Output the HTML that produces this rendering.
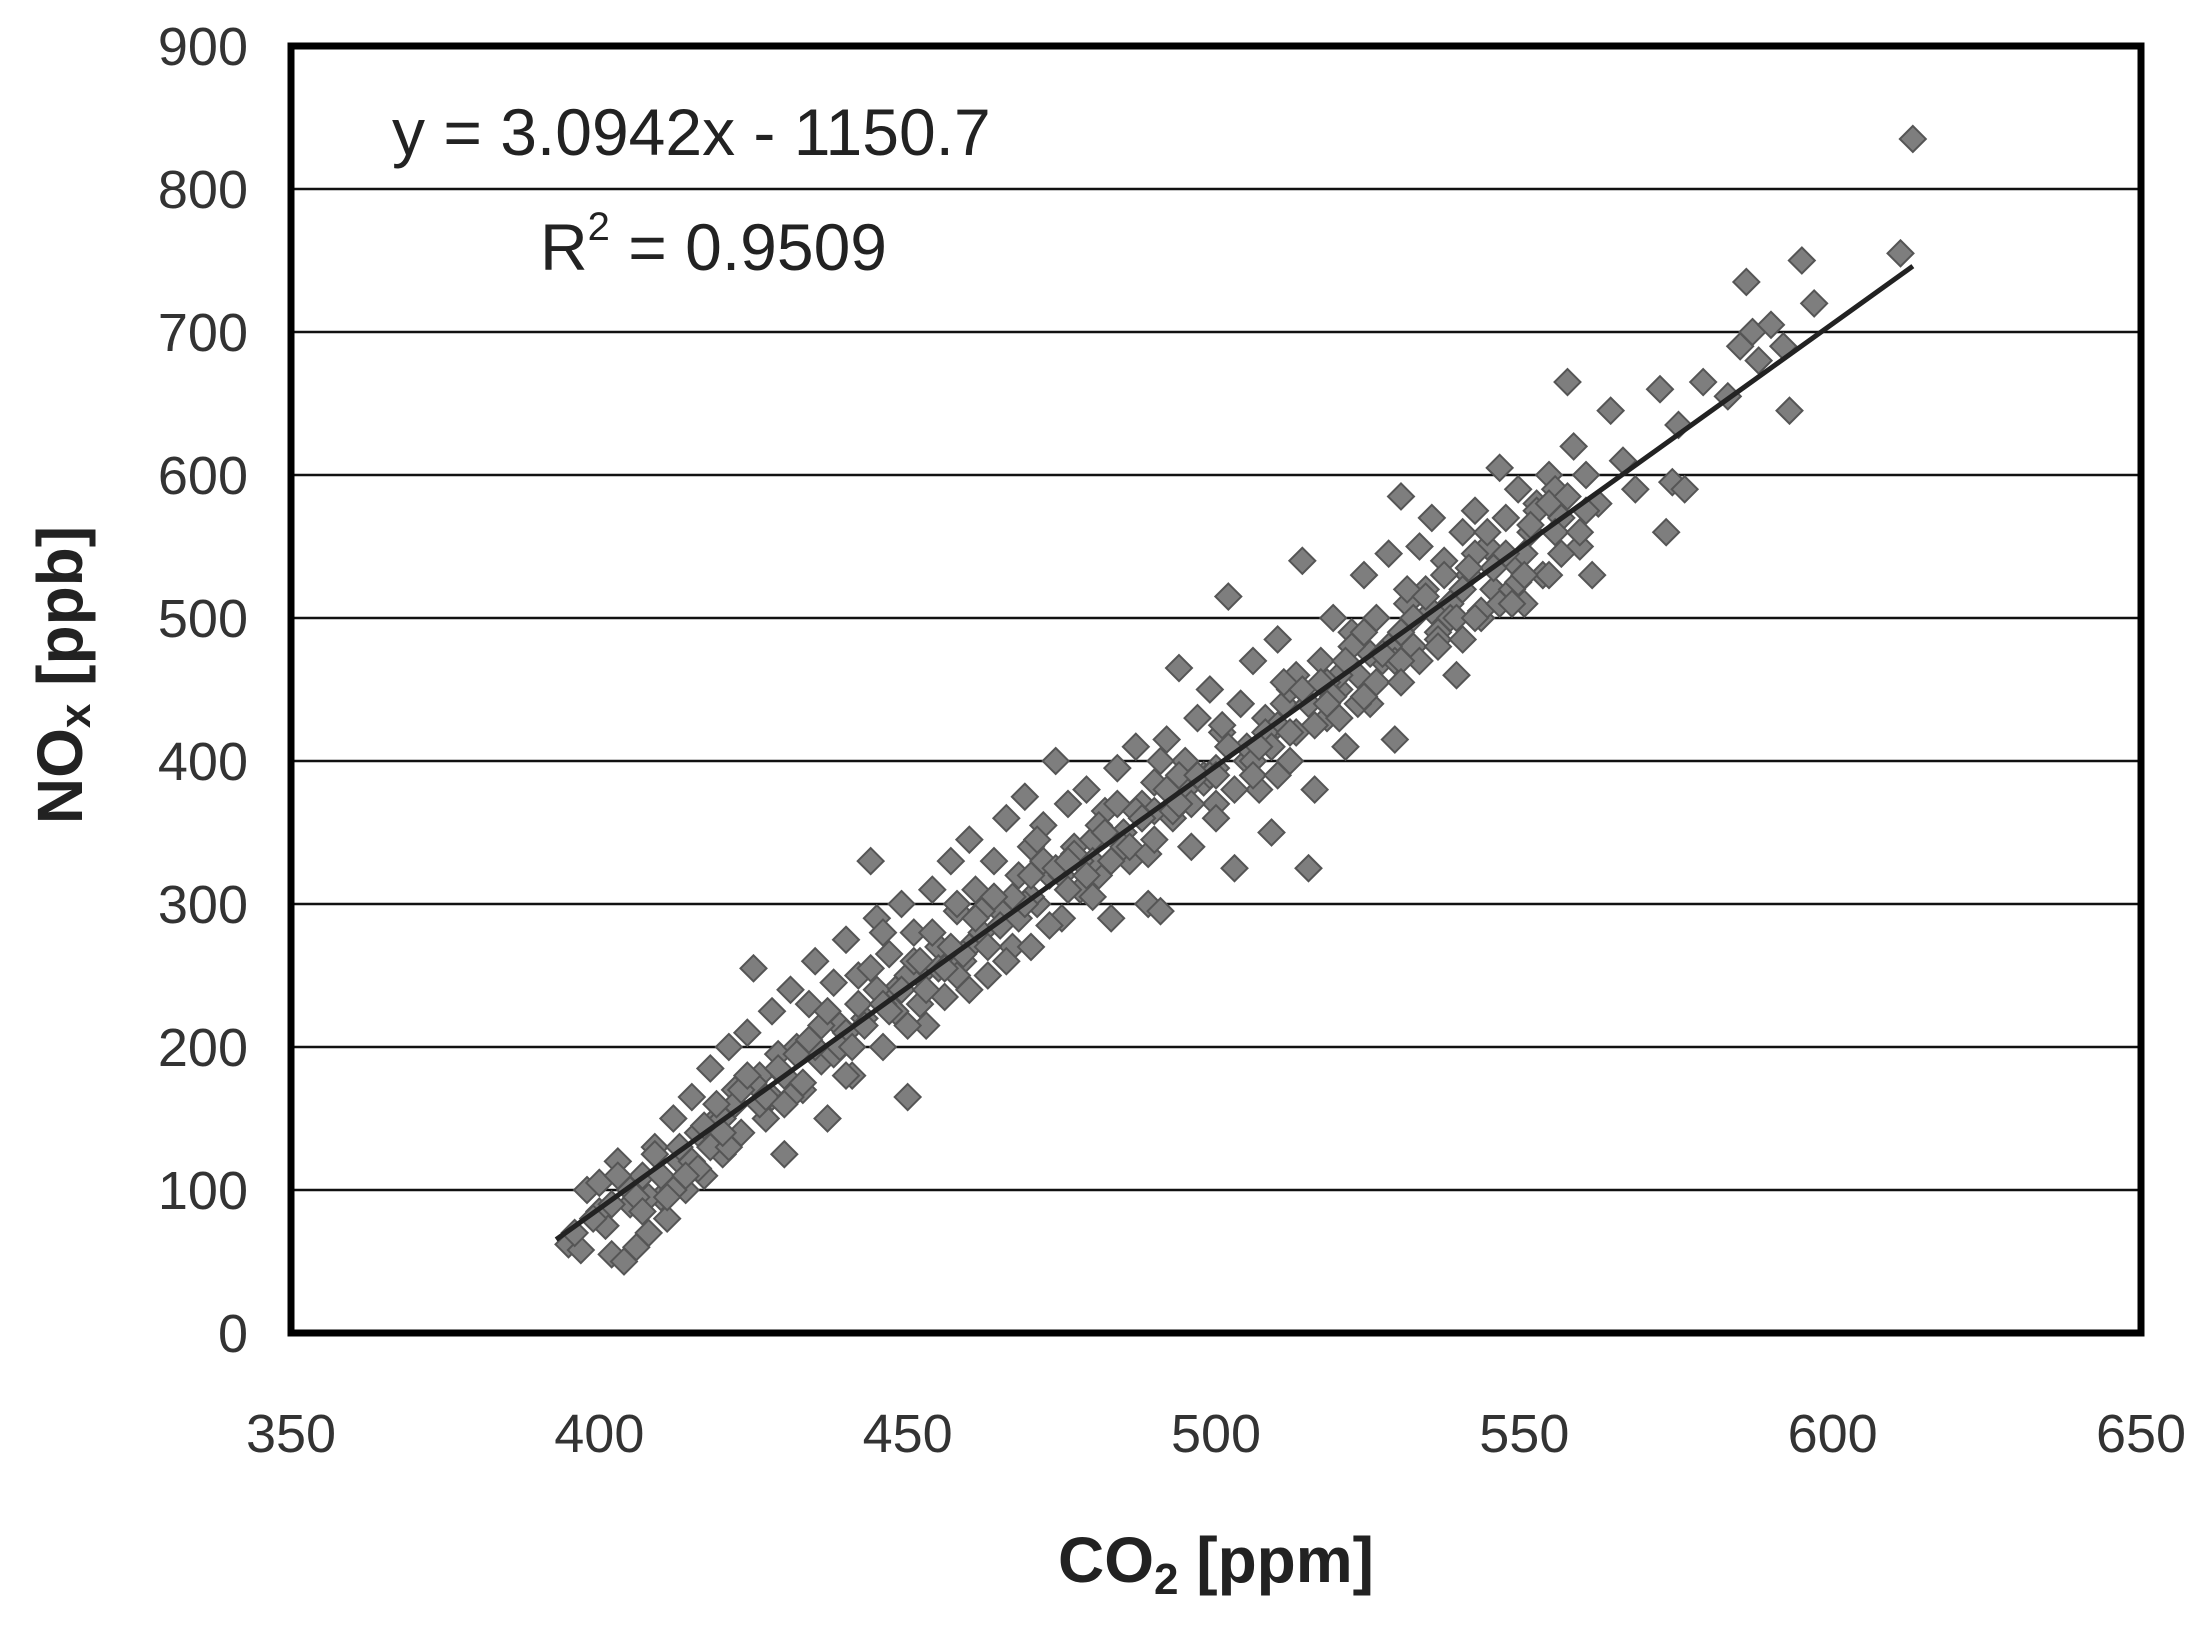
<!DOCTYPE html>
<html><head><meta charset="utf-8"><style>
html,body{margin:0;padding:0;background:#fff;}
svg{display:block;font-family:"Liberation Sans",Arial,sans-serif;}
</style></head><body>
<svg id="chart" width="2204" height="1626" viewBox="0 0 2204 1626" xmlns="http://www.w3.org/2000/svg">
<g id="grid"></g>
<g id="pts"></g>
<g id="fit"></g>
<rect x="291" y="46" width="1850" height="1287" fill="none" stroke="#000" stroke-width="7"/>
<g id="xt"></g>
<g id="yt"></g>
<text x="392" y="155" font-size="66" fill="#222">y = 3.0942x - 1150.7</text>
<text x="540" y="270" font-size="66" fill="#222">R<tspan font-size="40" dy="-30">2</tspan><tspan dy="30"> = 0.9509</tspan></text>
<text x="1216" y="1582" font-size="64" font-weight="bold" text-anchor="middle" fill="#222">CO<tspan font-size="44" dy="12">2</tspan><tspan dy="-12"> [ppm]</tspan></text>
<text transform="translate(82,675) rotate(-90)" font-size="64" font-weight="bold" text-anchor="middle" fill="#222">NO<tspan font-size="44" dy="8">x</tspan><tspan dy="-8"> [ppb]</tspan></text>
</svg>
<script>
const xTicks=[350,400,450,500,550,600,650];
const yTicks=[0,100,200,300,400,500,600,700,800,900];
const slope=3.0942, intercept=-1150.7;
const fitRange=[393,613];
const co2=[395,397,398,400,401,402,403,404,405,406,407,408,409,410,411,412,413,414,415,416,417,418,419,420,421,422,423,424,425,426,427,428,429,430,431,432,433,434,435,436,437,438,439,440,441,442,443,444,445,446,447,448,449,450,451,452,453,454,455,456,457,458,459,460,461,462,463,464,465,466,467,468,469,470,471,472,473,474,475,476,477,478,479,480,481,482,483,484,485,486,487,488,489,490,491,492,493,494,495,496,497,498,499,500,501,502,503,504,505,506,507,508,509,510,511,512,513,514,515,516,517,518,519,520,521,522,523,524,525,526,527,528,529,530,531,532,533,534,535,536,537,538,539,540,541,542,543,544,545,546,547,548,549,550,551,552,553,554,555,556,557,558,559,560,561,562,564,566,568,572,573,574,575,576,579,583,585,586,587,588,590,592,593,595,597,611,613,
400,405,410,415,420,425,430,435,440,445,450,455,460,465,470,475,480,485,490,495,500,505,510,515,520,525,530,535,540,545,550,555,560,408,418,428,438,448,458,468,478,488,498,508,518,528,538,548,412,422,432,442,452,462,472,482,492,502,512,522,532,542,552,
396,399,403,406,409,413,416,419,423,426,429,433,436,439,443,446,449,453,456,459,463,466,469,473,476,479,483,486,489,493,496,499,503,506,509,513,516,519,523,526,529,533,536,539,543,546,549,553,556,559,
402,407,411,414,417,421,424,427,431,434,437,441,444,447,451,454,457,461,464,467,471,474,477,481,484,487,491,494,497,501,504,507,511,514,517,521,524,527,531,534,537,541,544,547,551,554,557,
446,452,458,464,470,476,482,488,494,500,506,512,518,524,530,536,542,548,554,
420,430,440,450,460,470,480,490,500,510,520,530,540,550];
const nox=[62,58,100,105,75,55,120,50,90,60,110,70,130,95,80,150,120,100,165,140,110,185,150,125,200,170,140,210,255,180,150,225,195,125,240,200,170,230,260,190,150,245,215,275,180,250,220,330,290,200,265,240,300,165,280,250,215,310,270,235,330,295,260,345,310,280,250,330,295,360,270,320,375,340,300,355,320,400,290,370,340,310,380,345,320,365,290,395,350,330,410,370,300,385,295,415,360,465,400,340,430,390,450,370,420,515,325,440,400,470,380,430,350,485,440,400,460,540,325,380,470,430,500,450,410,490,460,530,440,500,470,545,415,585,510,480,550,520,570,490,540,510,460,560,530,575,500,550,520,605,570,540,590,510,560,580,530,600,590,570,665,620,550,600,530,580,645,610,590,660,560,595,635,590,665,655,690,735,700,680,705,690,645,750,720,755,835,
85,100,110,120,150,175,180,200,210,240,250,255,270,285,305,320,330,340,365,380,395,410,425,440,460,475,490,505,520,535,545,560,575,95,130,165,195,225,250,290,330,360,385,420,455,480,500,520,100,160,195,230,230,295,330,350,380,410,450,480,500,545,575,
70,80,110,95,125,130,115,160,170,160,185,175,215,200,215,230,240,240,255,265,270,260,300,285,310,320,330,340,335,365,370,390,380,400,410,420,425,445,440,455,470,470,485,500,505,510,525,530,545,560,
90,85,95,110,145,130,180,165,165,205,225,200,255,225,260,280,270,290,305,305,345,325,335,355,370,365,400,390,390,425,440,410,455,450,455,470,490,475,520,515,530,535,560,545,565,580,585,
280,260,300,305,320,330,350,360,370,390,390,420,440,445,470,480,500,510,530,
140,160,180,215,240,270,305,345,360,390,430,455,485,530];
const L=291,R=2141,T=46,B=1333;
const X=v=>L+(v-350)/300*(R-L);
const Y=v=>B-v/900*(B-T);
const NS='http://www.w3.org/2000/svg';
function mk(tag,attrs,parent){const e=document.createElementNS(NS,tag);for(const k in attrs)e.setAttribute(k,attrs[k]);parent.appendChild(e);return e;}
const grid=document.getElementById('grid'),yt=document.getElementById('yt'),xt=document.getElementById('xt'),pts=document.getElementById('pts'),fit=document.getElementById('fit');
yTicks.forEach(v=>{
  if(v>0&&v<900){const g=mk('line',{x1:L,x2:R,y1:Y(v),y2:Y(v),stroke:'#111','stroke-width':2.5},grid);
  
  }
  const t=mk('text',{x:248,y:Y(v)+19,'font-size':54,'text-anchor':'end',fill:'#333'},yt);t.textContent=v;
  
  
});
xTicks.forEach(v=>{
  const t=mk('text',{x:X(v),y:1452,'font-size':54,'text-anchor':'middle',fill:'#333'},xt);t.textContent=v;
  
  
});
const s=13;
co2.forEach((c,i)=>{
  const cx=X(c),cy=Y(nox[i]);
  const p=mk('polygon',{points:`${cx},${cy-s} ${cx+s},${cy} ${cx},${cy+s} ${cx-s},${cy}`,fill:'#7e7e7e',stroke:'#555','stroke-width':2},pts);
  
  
});
const ln=mk('line',{x1:X(fitRange[0]),y1:Y(slope*fitRange[0]+intercept),x2:X(fitRange[1]),y2:Y(slope*fitRange[1]+intercept),stroke:'#222','stroke-width':5},fit);


</script>
</body></html>
